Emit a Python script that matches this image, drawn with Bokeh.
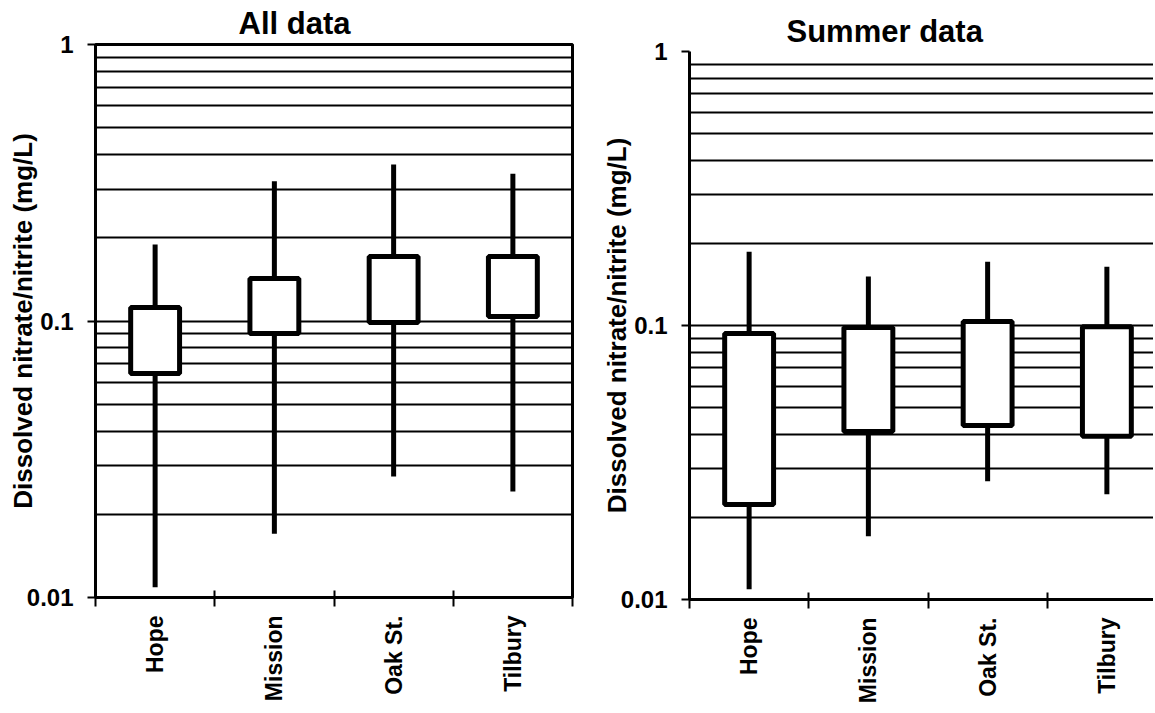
import math
from bokeh.plotting import figure
from bokeh.layouts import row, column
from bokeh.models import FixedTicker, Range1d, ColumnDataSource, Spacer
from bokeh.embed import file_html
from bokeh.resources import INLINE

# ---- data ----
categories = ["Hope", "Mission", "Oak St.", "Tilbury"]

all_min = [0.0109, 0.0170, 0.0274, 0.0242]
all_q1 = [0.0646, 0.0901, 0.0988, 0.1038]
all_q3 = [0.112, 0.1425, 0.171, 0.171]
all_max = [0.189, 0.320, 0.368, 0.341]

summer_min = [0.0109, 0.0170, 0.0270, 0.0242]
summer_q1 = [0.0222, 0.0410, 0.0432, 0.0394]
summer_q3 = [0.0935, 0.0983, 0.1035, 0.0990]
summer_max = [0.186, 0.151, 0.171, 0.164]

y_major = [0.01, 0.1, 1]
y_labels = ["0.01", "0.1", "1"]
grid_values = [0.02, 0.03, 0.04, 0.05, 0.06, 0.07, 0.08, 0.09, 0.1,
               0.2, 0.3, 0.4, 0.5, 0.6, 0.7, 0.8, 0.9, 1.0]

FONT = "Liberation Sans"
CAT_PX = 119.25


def panel(title, lo, q1, q3, hi, left, right, bottom, frame_w, frame_h,
          title_offset, title_standoff, show_right_border):
    x_end = frame_w / CAT_PX
    p = figure(frame_width=frame_w, frame_height=frame_h, y_axis_type="log",
               x_range=Range1d(0, x_end), y_range=Range1d(0.01, 1),
               output_backend="svg", toolbar_location=None,
               min_border_left=left, min_border_right=right,
               min_border_top=0, min_border_bottom=bottom)
    p.title.text = title
    p.title.text_font = FONT
    p.title.text_font_size = "31px"
    p.title.text_font_style = "bold"
    p.title.text_color = "black"
    p.title.align = "left"
    p.title.offset = title_offset
    p.title.standoff = title_standoff

    xs = [i + 0.5 for i in range(len(categories))]
    src = ColumnDataSource(dict(x=xs, lo=lo, q1=q1, q3=q3, hi=hi))

    # grid
    p.xgrid.visible = False
    p.ygrid.ticker = FixedTicker(ticks=grid_values)
    p.ygrid.grid_line_color = "black"
    p.ygrid.grid_line_width = 2
    p.ygrid.grid_line_alpha = 1.0

    # whiskers and boxes
    p.segment(x0="x", y0="lo", x1="x", y1="hi", source=src,
              line_color="black", line_width=5)
    p.vbar(x="x", width=0.41, bottom="q1", top="q3", source=src,
           fill_color="white", line_color="black", line_width=5)

    # y axis
    ya = p.yaxis[0]
    ya.ticker = FixedTicker(ticks=y_major)
    ya.major_label_overrides = {v: s for v, s in zip(y_major, y_labels)}
    ya.major_label_text_font = FONT
    ya.major_label_text_font_size = "24px"
    ya.major_label_text_font_style = "bold"
    ya.major_label_text_color = "black"
    ya.major_label_standoff = 14
    ya.major_tick_in = 0
    ya.major_tick_out = 8
    ya.major_tick_line_width = 2
    ya.minor_tick_in = 0
    ya.minor_tick_out = 0
    ya.axis_line_width = 3
    ya.axis_label = "Dissolved nitrate/nitrite (mg/L)"
    ya.axis_label_text_font = FONT
    ya.axis_label_text_font_size = "26px"
    ya.axis_label_text_font_style = "bold"
    ya.axis_label_text_color = "black"
    ya.axis_label_standoff = -14

    # x axis: labels at category centres, tick marks at boundaries
    xa = p.xaxis[0]
    xa.ticker = FixedTicker(ticks=xs, minor_ticks=list(range(len(categories) + 1)))
    xa.major_label_overrides = {x: c for x, c in zip(xs, categories)}
    xa.major_label_orientation = math.pi / 2
    xa.major_label_text_font = FONT
    xa.major_label_text_font_size = "23px"
    xa.major_label_text_font_style = "bold"
    xa.major_label_text_color = "black"
    xa.major_label_standoff = 9
    xa.major_tick_in = 0
    xa.major_tick_out = 0
    xa.minor_tick_in = 7
    xa.minor_tick_out = 9
    xa.minor_tick_line_width = 2
    xa.minor_tick_line_color = "black"
    xa.axis_line_width = 3

    if show_right_border:
        p.outline_line_color = "black"
        p.outline_line_width = 3
        p.outline_line_alpha = 1.0
    else:
        p.outline_line_color = None
    p.background_fill_color = "white"
    p.border_fill_color = "white"
    return p


p1 = panel("All data", all_min, all_q1, all_q3, all_max,
           left=95, right=5, bottom=104, frame_w=477, frame_h=553,
           title_offset=143, title_standoff=7, show_right_border=True)
p2 = panel("Summer data", summer_min, summer_q1, summer_q3, summer_max,
           left=112, right=0, bottom=100, frame_w=464, frame_h=548,
           title_offset=97, title_standoff=6, show_right_border=False)

layout = row(p1, column(Spacer(width=10, height=8), p2))
open("out.html", "w").write(file_html(layout, INLINE))
